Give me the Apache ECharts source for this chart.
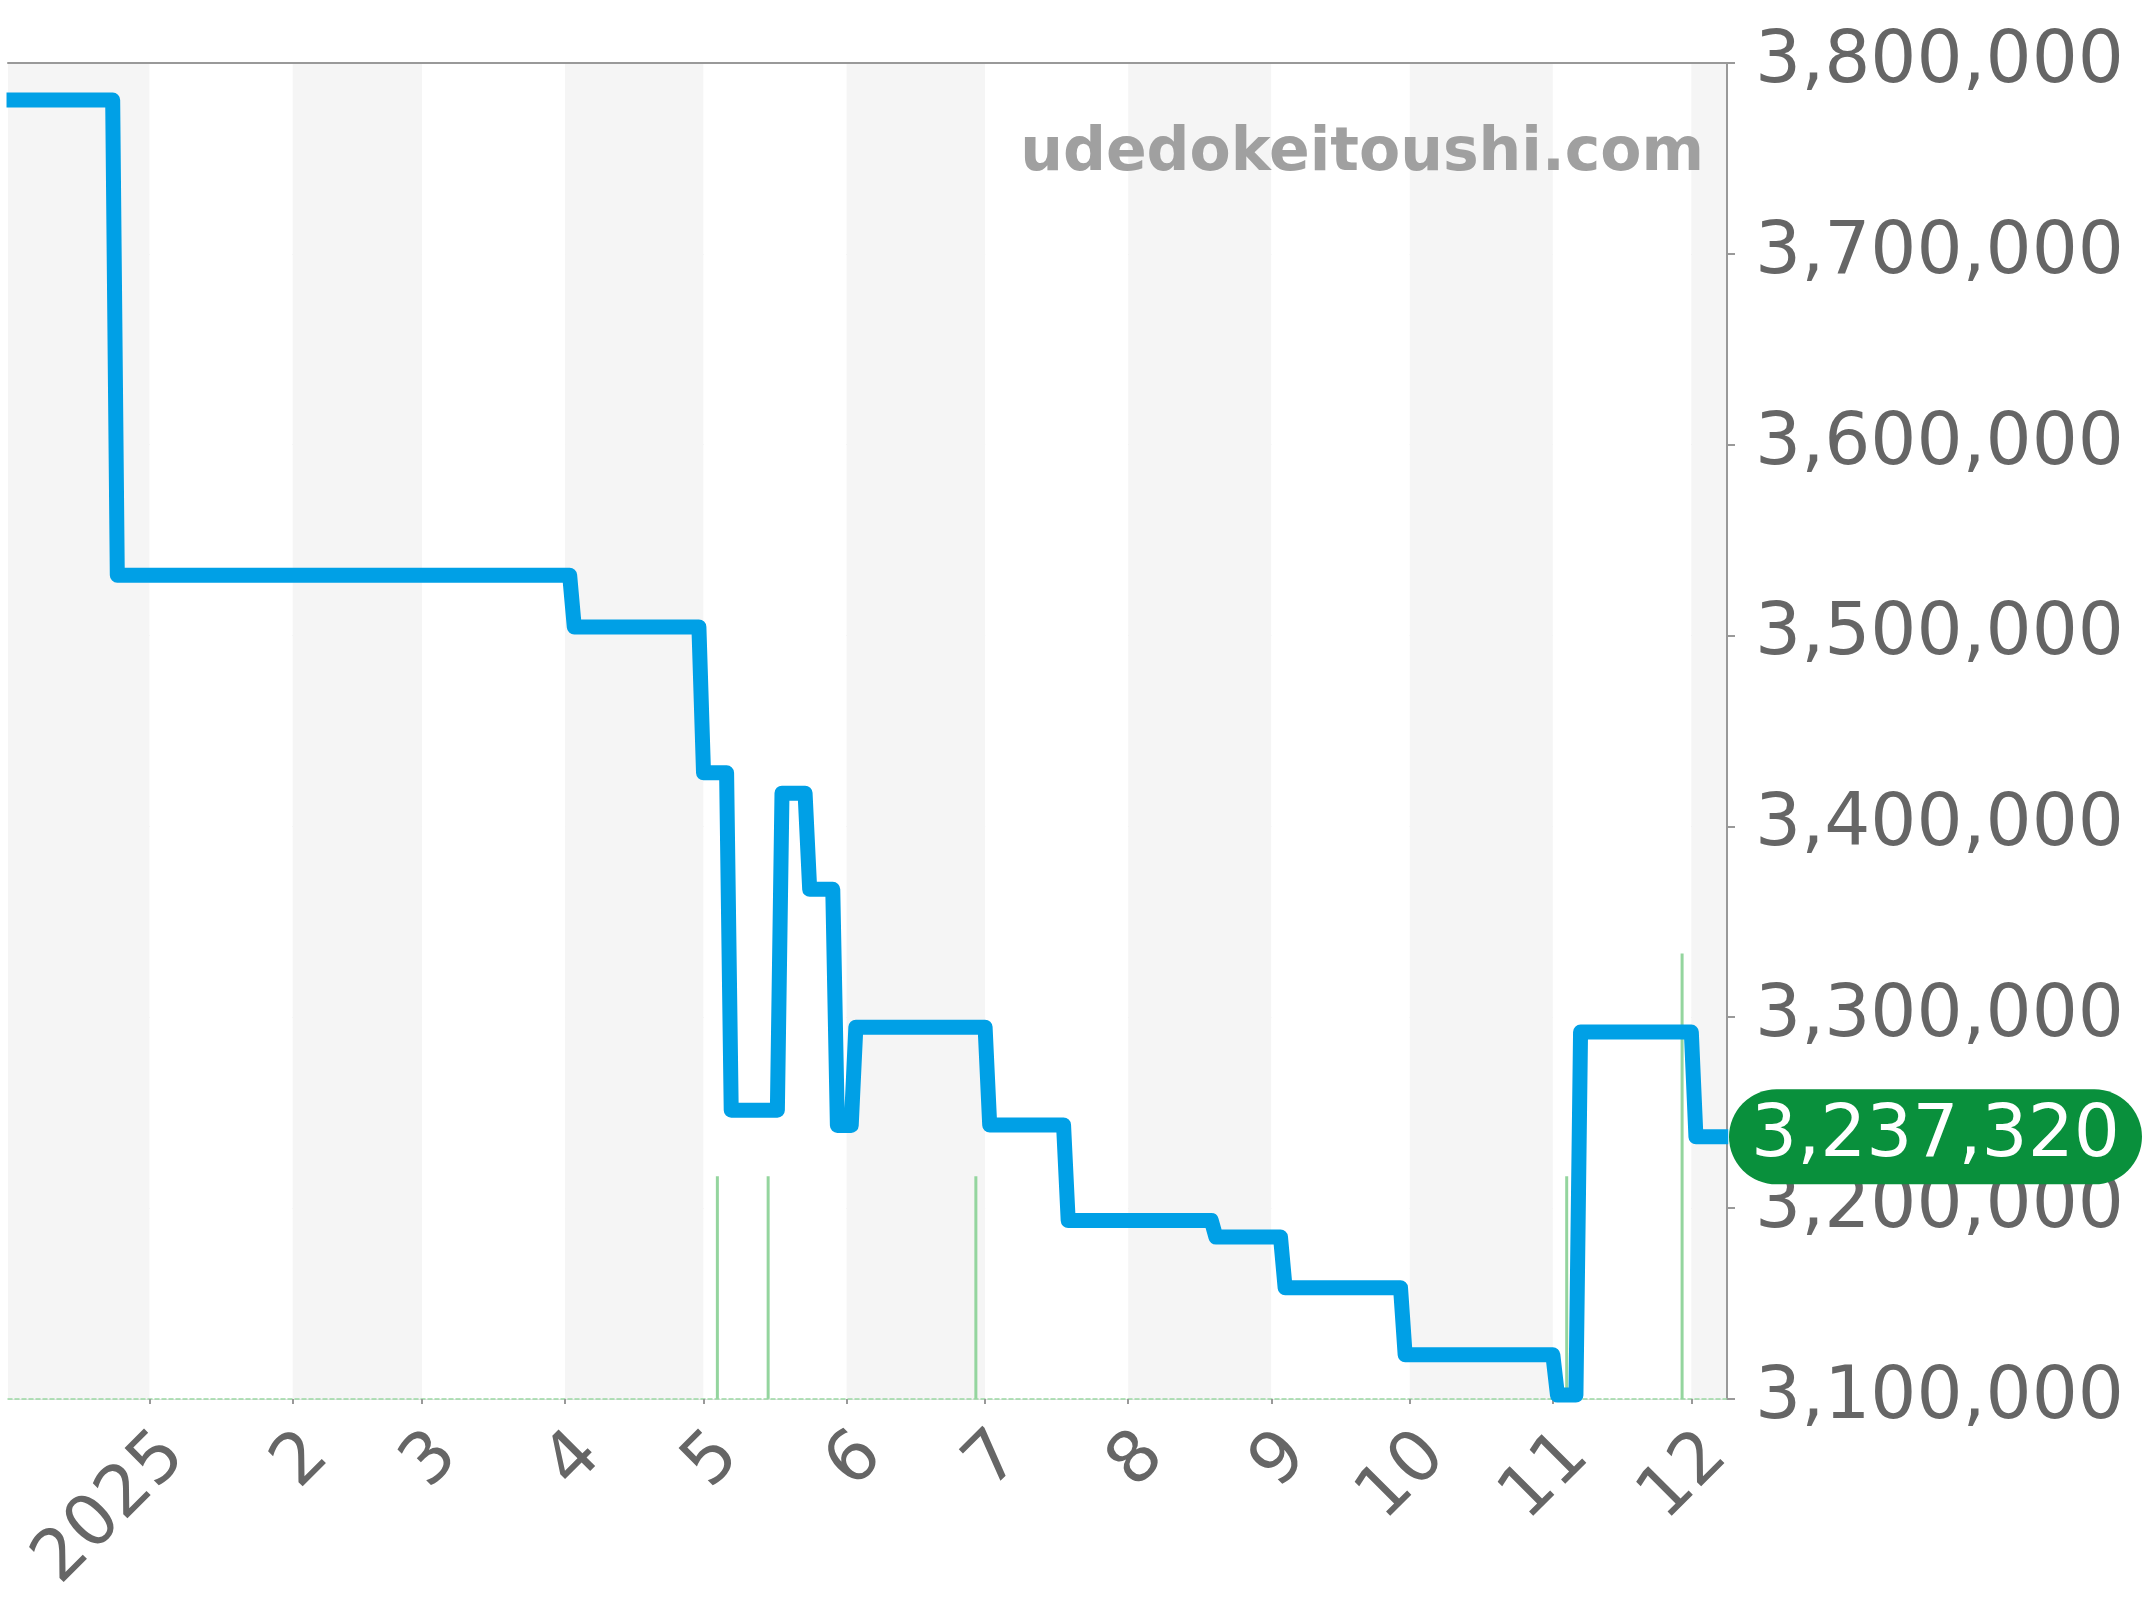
<!DOCTYPE html>
<html><head><meta charset="utf-8">
<script src="https://cdn.jsdelivr.net/npm/echarts@6/dist/echarts.min.js"></script>
<style>html,body{margin:0;padding:0;background:#fff}#chart{width:2144px;height:1600px}</style>
</head><body><div id="chart"></div>
<script>
// ---- data ----
const priceDates = [
  '2024-12-01','2024-12-24','2024-12-25','2025-04-02','2025-04-03','2025-04-30',
  '2025-05-01','2025-05-06','2025-05-07','2025-05-17','2025-05-18','2025-05-23',
  '2025-05-24','2025-05-29','2025-05-30','2025-06-02','2025-06-03','2025-07-01',
  '2025-07-02','2025-07-18','2025-07-19','2025-08-19','2025-08-20','2025-09-03',
  '2025-09-04','2025-09-29','2025-09-30','2025-11-01','2025-11-02','2025-11-06',
  '2025-11-07','2025-12-01','2025-12-02','2025-12-09'
];
const priceValues = [
  3780600,3780600,3531600,3531600,3504500,3504500,
  3428100,3428100,3251300,3251300,3417400,3417400,
  3367000,3367000,3243300,3243300,3294800,3294800,
  3243500,3243500,3193500,3193500,3184800,3184800,
  3158200,3158200,3123100,3123100,3102000,3102000,
  3292200,3292200,3237320,3237320
];
const spikeDates = ['2025-05-04','2025-05-15','2025-06-29','2025-11-04','2025-11-29'];
const spikeValues = [1,1,1,1,2];
const latestValue = 3237320;
const yMin = 3100000, yMax = 3800000, yInterval = 100000;
const axisStart = '2024-12-01 15:30';
const axisEnd = '2025-12-08 09:40';
const watermark = 'udedokeitoushi.com';

const priceSeries = priceDates.map((d, i) => [d, priceValues[i]]);
const spikeSeries = spikeDates.map((d, i) => [d, spikeValues[i]]);
const fmt = v => Number(v).toLocaleString('en-US');
const FONT = 'DejaVu Sans';

const chart = echarts.init(document.getElementById('chart'), null, {renderer: 'canvas'});
chart.setOption({
  animation: false,
  backgroundColor: '#ffffff',
  grid: {left: 8, right: 417, top: 63, bottom: 196, containLabel: false},
  graphic: [{
    type: 'text', right: 440, top: 124, z: 10,
    style: {text: watermark, font: 'bold 60px "DejaVu Sans"', fill: '#a0a0a0'}
  }],
  xAxis: [{
    type: 'time', min: axisStart, max: axisEnd,
    splitNumber: 12, minInterval: 28 * 86400000, maxInterval: 31 * 86400000,
    axisLine: {show: true, onZero: false, lineStyle: {color: '#9ad7a3', width: 1.5, type: [4, 3]}},
    axisTick: {show: true, length: 5, lineStyle: {color: '#999', width: 2}},
    axisLabel: {
      show: true, rotate: 45, margin: 21, fontSize: 71, fontFamily: FONT, color: '#666',
      align: 'right', verticalAlign: 'top',
      formatter: function (v) {
        const d = new Date(v);
        if (d.getDate() !== 1 || d.getHours() !== 0) return '';
        return d.getMonth() === 0 ? String(d.getFullYear()) : String(d.getMonth() + 1);
      }
    },
    splitLine: {show: false},
    splitArea: {show: true, areaStyle: {color: ['#f5f5f5', '#ffffff']}}
  }, {
    type: 'time', position: 'top', min: axisStart, max: axisEnd,
    axisLine: {show: true, onZero: false, lineStyle: {color: '#999', width: 2}},
    axisTick: {show: false}, axisLabel: {show: false}, splitLine: {show: false}
  }],
  yAxis: [{
    type: 'value', position: 'right', min: yMin, max: yMax, interval: yInterval,
    axisLine: {show: true, lineStyle: {color: '#999', width: 2}},
    axisTick: {show: true, length: 8, lineStyle: {color: '#999', width: 2}},
    axisLabel: {margin: 28, fontSize: 72.5, fontFamily: FONT, color: '#666', formatter: fmt},
    splitLine: {show: true, lineStyle: {color: '#e4e4e4', width: 1}}
  }, {
    type: 'value', min: 0, max: 6, show: false
  }],
  series: [{
    type: 'bar', xAxisIndex: 0, yAxisIndex: 1, data: spikeSeries,
    barWidth: 3, itemStyle: {color: '#94d59e'}, z: 1
  }, {
    type: 'line', xAxisIndex: 0, yAxisIndex: 0, data: priceSeries,
    showSymbol: false, symbol: 'none', clip: true, z: 3,
    lineStyle: {color: '#00a0e6', width: 15, join: 'round', cap: 'butt'},
    markLine: {
      silent: true, symbol: 'none',
      lineStyle: {color: 'rgba(0,0,0,0)', width: 1, type: 'solid'},
      data: [{yAxis: latestValue}],
      label: {
        show: true, position: 'end', distance: 2,
        formatter: () => fmt(latestValue),
        fontSize: 72.5, fontFamily: FONT, color: '#ffffff',
        backgroundColor: '#09903c', borderRadius: 48,
        lineHeight: 80, padding: [7.5, 22, 7.5, 22]
      }
    }
  }]
});
</script></body></html>
